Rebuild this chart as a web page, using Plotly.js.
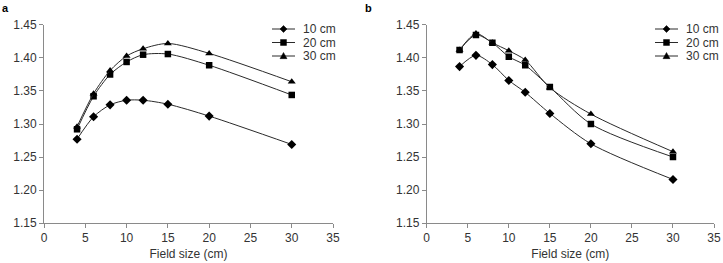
<!DOCTYPE html>
<html>
<head>
<meta charset="utf-8">
<script src="https://cdn.plot.ly/plotly-3.0.1.min.js"></script>
<style>
  html, body { margin: 0; padding: 0; background: #fff; }
  #chart { width: 723px; height: 263px; }
</style>
</head>
<body>
<div id="chart"></div>
<script>
// Field sizes (cm) shared by both panels
const fieldSize = [4, 6, 8, 10, 12, 15, 20, 30];
const depthLabels = ['10 cm', '20 cm', '30 cm'];

// Panel a
const panelA_10 = [1.277, 1.311, 1.329, 1.336, 1.336, 1.330, 1.312, 1.269];
const panelA_20 = [1.292, 1.342, 1.375, 1.394, 1.405, 1.406, 1.389, 1.344];
const panelA_30 = [1.296, 1.346, 1.381, 1.403, 1.414, 1.422, 1.407, 1.364];

// Panel b
const panelB_10 = [1.387, 1.404, 1.390, 1.366, 1.348, 1.316, 1.270, 1.216];
const panelB_20 = [1.412, 1.435, 1.423, 1.402, 1.389, 1.356, 1.300, 1.250];
const panelB_30 = [1.412, 1.437, 1.423, 1.411, 1.397, 1.355, 1.315, 1.258];

const xTicks = [0, 5, 10, 15, 20, 25, 30, 35];
const yTicks = [1.15, 1.20, 1.25, 1.30, 1.35, 1.40, 1.45];

const W = 723, H = 263;
const symbols = ['diamond', 'square', 'triangle-up'];
const msize = [7, 6.5, 7];
const lineColor = '#2a2a2a';

function series(x, y, i, xa, ya) {
  return {
    x: x, y: y, type: 'scatter', mode: 'lines+markers',
    name: depthLabels[i], xaxis: xa, yaxis: ya, showlegend: false,
    line: { color: lineColor, width: 1, shape: 'spline', smoothing: 0.8 },
    marker: { symbol: symbols[i], size: msize[i], color: '#000' }
  };
}

const data = [
  series(fieldSize, panelA_10, 0, 'x', 'y'),
  series(fieldSize, panelA_20, 1, 'x', 'y'),
  series(fieldSize, panelA_30, 2, 'x', 'y'),
  series(fieldSize, panelB_10, 0, 'x2', 'y2'),
  series(fieldSize, panelB_20, 1, 'x2', 'y2'),
  series(fieldSize, panelB_30, 2, 'x2', 'y2')
];

const font = { family: 'Liberation Sans, Arial, sans-serif', size: 12, color: '#333' };

function xAxis(domain, anchor) {
  return {
    domain: domain, anchor: anchor, range: [0, 35],
    tickvals: xTicks, ticktext: xTicks.map(String),
    showgrid: false, zeroline: false, showline: true,
    linecolor: '#8a8a8a', linewidth: 1,
    ticks: 'outside', ticklen: 4, tickcolor: '#8a8a8a',
    tickfont: font,
    title: { text: 'Field size (cm)', font: font, standoff: 5 }
  };
}
function yAxis(domain, anchor) {
  return {
    domain: domain, anchor: anchor, range: [1.15, 1.45],
    tickvals: yTicks, ticktext: yTicks.map(v => v.toFixed(2)),
    showgrid: false, zeroline: false, showline: true,
    linecolor: '#8a8a8a', linewidth: 1,
    ticks: 'outside', ticklen: 4, tickcolor: '#8a8a8a',
    tickfont: font
  };
}

// Compact legend built from shapes + annotations (pixel layout converted to paper units)
function px(x) { return x / W; }
function py(y) { return 1 - y / H; }
function glyphPath(sym, cx, cy, r) {
  const pts = sym === 'diamond'
    ? [[cx, cy - r], [cx + r, cy], [cx, cy + r], [cx - r, cy]]
    : sym === 'square'
      ? [[cx - r * 0.85, cy - r * 0.85], [cx + r * 0.85, cy - r * 0.85], [cx + r * 0.85, cy + r * 0.85], [cx - r * 0.85, cy + r * 0.85]]
      : [[cx, cy - r], [cx + r, cy + r * 0.75], [cx - r, cy + r * 0.75]];
  return 'M' + pts.map(p => px(p[0]) + ',' + py(p[1])).join('L') + 'Z';
}
const shapes = [], annotations = [];
function addLegend(x0, y0) {
  depthLabels.forEach((lab, i) => {
    const y = y0 + i * 13.5;
    shapes.push({ type: 'line', xref: 'paper', yref: 'paper',
      x0: px(x0), x1: px(x0 + 23), y0: py(y), y1: py(y),
      line: { color: lineColor, width: 1 } });
    shapes.push({ type: 'path', xref: 'paper', yref: 'paper',
      path: glyphPath(symbols[i], x0 + 11.5, y, 3.5),
      fillcolor: '#000', line: { color: '#000', width: 0.5 } });
    annotations.push({ text: lab, xref: 'paper', yref: 'paper',
      x: px(x0 + 29), y: py(y), xanchor: 'left', yanchor: 'middle',
      showarrow: false, font: font });
  });
}
addLegend(272, 29);
addLegend(655, 29);

const labelFont = { family: 'Liberation Sans, Arial, sans-serif', size: 11, color: '#000' };
annotations.push({ text: '<b>a</b>', xref: 'paper', yref: 'paper', x: 0.0, y: 1.0,
  xanchor: 'left', yanchor: 'top', showarrow: false, font: labelFont });
annotations.push({ text: '<b>b</b>', xref: 'paper', yref: 'paper', x: 0.502, y: 1.0,
  xanchor: 'left', yanchor: 'top', showarrow: false, font: labelFont });

const layout = {
  width: W, height: H,
  margin: { l: 0, r: 0, t: 0, b: 0 },
  paper_bgcolor: '#fff', plot_bgcolor: '#fff',
  showlegend: false,
  xaxis: xAxis([0.0609, 0.4606], 'y'),
  yaxis: yAxis([0.152, 0.905], 'x'),
  xaxis2: xAxis([0.5902, 0.9876], 'y2'),
  yaxis2: yAxis([0.152, 0.905], 'x2'),
  shapes: shapes,
  annotations: annotations
};

Plotly.newPlot('chart', data, layout, { staticPlot: true, displayModeBar: false });
</script>
</body>
</html>
